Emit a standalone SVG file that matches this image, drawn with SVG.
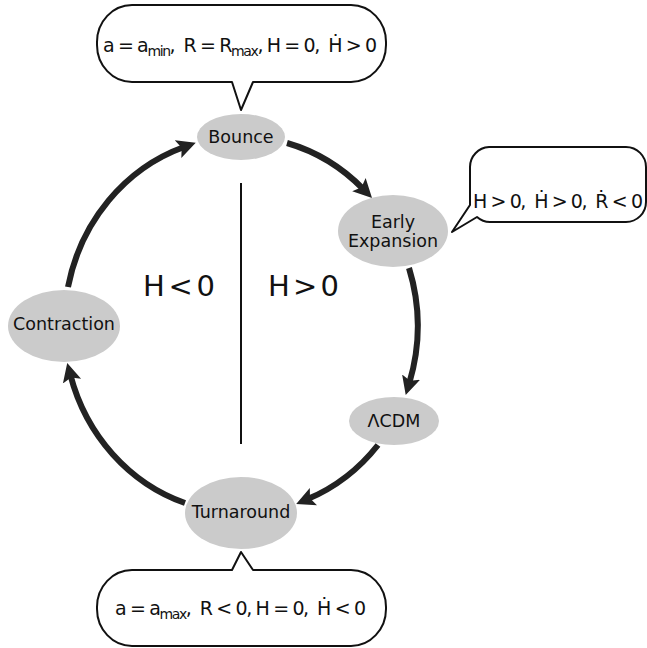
<svg xmlns="http://www.w3.org/2000/svg" width="647" height="648" viewBox="0 0 647 648">
<style>
text{font-family:"DejaVu Sans","Liberation Sans",sans-serif;fill:#111}
.node ellipse{fill:#cbcbcb}
.lbl{font-size:17.5px;text-anchor:middle}
.call{fill:#fff;stroke:#111;stroke-width:2;stroke-linejoin:round}
.ct{font-size:19px}
.sub{font-size:14px}
.arr{fill:none;stroke:#222;stroke-width:6}
.big{font-size:29px}
</style>
<defs>
<marker id="ah" markerUnits="userSpaceOnUse" markerWidth="20" markerHeight="20" viewBox="0 -8 16 16" refX="5" refY="0" orient="auto">
<path d="M0,-7.5 L15,0 L0,7.5 L3,0 Z" fill="#222"/>
</marker>
</defs>
<rect width="647" height="648" fill="#fff"/>

<g id="callout-top">
<path class="call" d="M132,5 H351 A35,37 0 0 1 386,42 V45 A35,37 0 0 1 351,82 H253 L241,110 L232,82 H132 A35,37 0 0 1 97,45 V42 A35,37 0 0 1 132,5 Z"/>
<text class="ct" x="103" y="52" textLength="274" lengthAdjust="spacing">a = a<tspan class="sub" dy="4">min</tspan><tspan dy="-4">,&#160; R = R</tspan><tspan class="sub" dy="4">max</tspan><tspan dy="-4">, H = 0,&#160; Ḣ &gt; 0</tspan></text>
</g>

<g id="callout-right">
<path class="call" d="M489,147 H626 A20,20 0 0 1 646,167 V202 A20,20 0 0 1 626,222 H490 A20,20 0 0 1 477,217 L452,232 L470,205 V167 A20,20 0 0 1 489,147 Z"/>
<text class="ct" x="473" y="208" textLength="170" lengthAdjust="spacing">H &gt; 0,&#160; Ḣ &gt; 0,&#160; Ṙ &lt; 0</text>
</g>

<g id="callout-bottom">
<path class="call" d="M132,570 H232 L241,552 L253,570 H351 A35,37 0 0 1 386,607 V609 A35,37 0 0 1 351,646 H132 A35,37 0 0 1 97,609 V607 A35,37 0 0 1 132,570 Z"/>
<text class="ct" x="115" y="615" textLength="251" lengthAdjust="spacing">a = a<tspan class="sub" dy="4">max</tspan><tspan dy="-4">,&#160; R &lt; 0, H = 0,&#160; Ḣ &lt; 0</tspan></text>
</g>

<g id="connectors">
<path class="arr" marker-end="url(#ah)" d="M287,143 A177,188 0 0 1 363.3,189.1"/>
<path class="arr" marker-end="url(#ah)" d="M409,268 A177,188 0 0 1 409.3,383.1"/>
<path class="arr" marker-end="url(#ah)" d="M378,445 A177,188 0 0 1 307.7,499.1"/>
<path class="arr" marker-end="url(#ah)" d="M185,503 A177,188 0 0 1 70.4,375"/>
<path class="arr" marker-end="url(#ah)" d="M68,287 A177,188 0 0 1 184,147"/>
</g>

<g id="divider">
<line x1="241" y1="183" x2="241" y2="444" stroke="#111" stroke-width="2"/>
<text class="big" x="143" y="296" textLength="72" lengthAdjust="spacing">H &lt; 0</text>
<text class="big" x="268" y="296" textLength="71" lengthAdjust="spacing">H &gt; 0</text>
</g>

<g id="bounce" class="node">
<ellipse cx="241" cy="137" rx="44" ry="23"/>
<text class="lbl" x="241" y="143">Bounce</text>
</g>
<g id="early-expansion" class="node">
<ellipse cx="393" cy="231" rx="55" ry="36"/>
<text class="lbl" x="393" y="228">Early</text>
<text class="lbl" x="393" y="247">Expansion</text>
</g>
<g id="lcdm" class="node">
<ellipse cx="394" cy="421" rx="45" ry="24"/>
<text class="lbl" x="394" y="427">ΛCDM</text>
</g>
<g id="turnaround" class="node">
<ellipse cx="241" cy="513" rx="56" ry="36"/>
<text class="lbl" x="241" y="518">Turnaround</text>
</g>
<g id="contraction" class="node">
<ellipse cx="64" cy="326" rx="56" ry="36"/>
<text class="lbl" x="64" y="330">Contraction</text>
</g>
</svg>
